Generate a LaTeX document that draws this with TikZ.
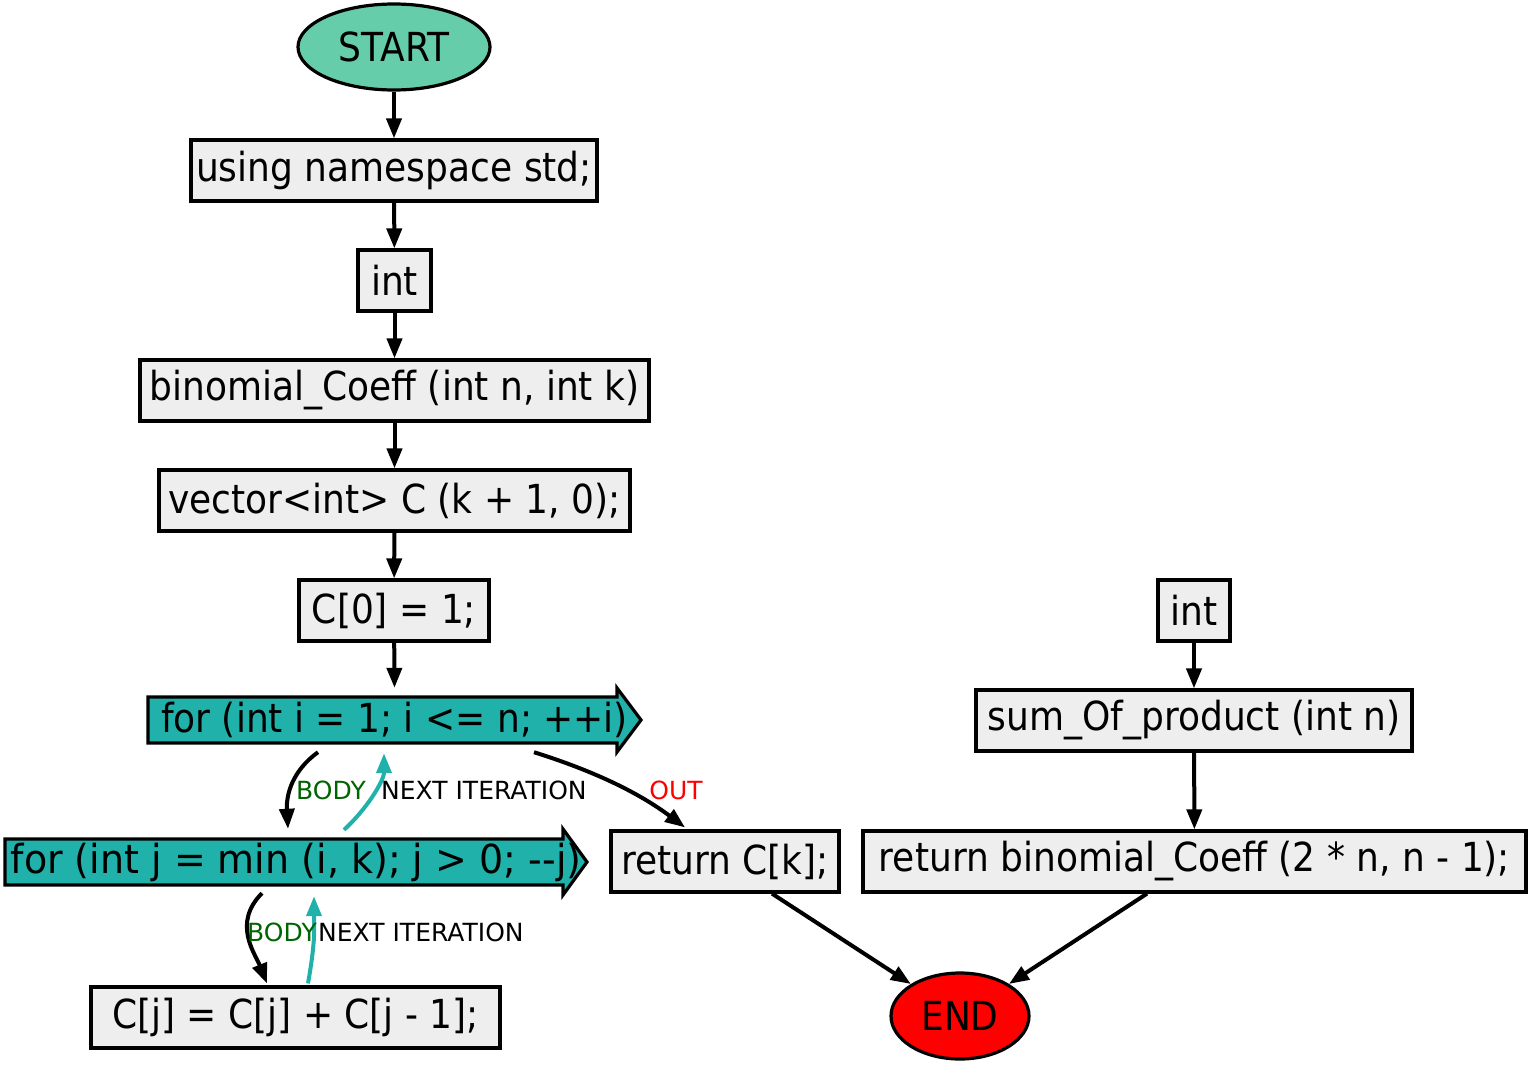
\documentclass[tikz,border=0pt]{standalone}
\usepackage{fontspec}
\setmainfont[FakeStretch=0.90,Ligatures=TeXOff]{DejaVu Sans}
\newfontfamily\lblfont{DejaVu Sans}
\usetikzlibrary{shapes.geometric,arrows.meta,calc}
\definecolor{boxgray}{HTML}{EEEEEE}
\definecolor{loopteal}{HTML}{20B2AA}
\definecolor{startgreen}{HTML}{66CDAA}
\definecolor{bodygreen}{HTML}{006400}
\begin{document}
\begin{tikzpicture}[x=1pt,y=-1pt,
  box/.style={draw=black,line width=3.2pt,fill=boxgray,inner sep=0pt,minimum height=61pt,font=\fontsize{40}{48}\selectfont},
  term/.style={ellipse,draw=black,line width=3.2pt,inner sep=0pt,font=\fontsize{40}{48}\selectfont},
  looptext/.style={inner sep=0pt,font=\fontsize{40}{48}\selectfont},
  loopshape/.style={draw=black,line width=3.2pt,fill=loopteal,line join=miter},
  flowedge/.style={line width=4pt,-{Triangle[length=20pt,width=15pt]}},
  nextedge/.style={flowedge,draw=loopteal},
  lbl/.style={inner sep=0pt,font=\lblfont\fontsize{25}{29}\selectfont}
]
\useasboundingbox (0,0) rectangle (1531,1065);

% loop shapes
\draw[loopshape] (148,697) -- (617,697) -- (617,688) -- (641,720) -- (617,752) -- (617,743) -- (148,743) -- cycle;
\draw[loopshape] (5,839) -- (563,839) -- (563,829) -- (587,862) -- (563,895) -- (563,885) -- (5,885) -- cycle;

% nodes
\node[term,fill=startgreen,minimum width=192pt,minimum height=86pt] (start) at (394,47) {START};
\node[box,minimum width=406pt] (using) at (394,170.5) {using namespace std;};
\node[box,minimum width=73pt] (int1) at (394.5,280.5) {int};
\node[box,minimum width=509pt] (binom) at (394.5,390.5) {binomial\_Coeff (int n, int k)};
\node[box,minimum width=471pt] (vec) at (394.5,500.5) {vector<int> C (k + 1, 0);};
\node[box,minimum width=190pt] (c0) at (394,610.5) {C[0] = 1;};
\node[looptext,minimum width=493pt,minimum height=64pt] (fori) at (394.5,720) {for (int i = 1; i <= n; ++i)};
\node[looptext,minimum width=582pt,minimum height=66pt] (forj) at (296,862) {\fontspec[FakeStretch=0.95,Ligatures=TeXOff]{DejaVu Sans}for (int j = min (i, k); j > 0; --j)};
\node[box,minimum width=409pt] (cj) at (295.5,1017.5) {C[j] = C[j] + C[j - 1];};
\node[box,minimum width=228pt] (retc) at (725,861.5) {return C[k];};
\node[box,minimum width=72pt] (int2) at (1194,610.5) {int};
\node[box,minimum width=436pt] (sum) at (1194,720.5) {sum\_Of\_product (int n)};
\node[box,minimum width=663pt] (retb) at (1194.5,861.5) {return binomial\_Coeff (2 * n, n - 1);};
\node[term,fill=red,minimum width=138pt,minimum height=86pt] (end) at (960,1016) {END};

% straight edges
\draw[flowedge] (start) -- (using);
\draw[flowedge] (using) -- (int1);
\draw[flowedge] (int1) -- (binom);
\draw[flowedge] (binom) -- (vec);
\draw[flowedge] (vec) -- (c0);
\draw[flowedge] (c0) -- (fori.north);
\draw[flowedge] (int2) -- (sum);
\draw[flowedge] (sum) -- (retb);
\draw[flowedge] ($(retc.south)+(47,0)$) -- (end);
\draw[flowedge] ($(retb.south)+(-47.5,0)$) -- (end);

% loop edges
\draw[flowedge] ($(fori.south)+(-76.5,0)$) .. controls +(-25,18) and +(-2,-35) .. ($(forj.north)+(-8,0)$);
\draw[nextedge] ($(forj.north)+(48,1)$) .. controls +(22,-20) and +(0,28) .. ($(fori.south)+(-10.5,1)$);
\draw[flowedge] ($(fori.south)+(139.5,0)$) .. controls +(70,22) and +(-40,-30) .. ($(retc.north)+(-40,-2)$);
\draw[flowedge] ($(forj.south)+(-34,-2)$) .. controls +(-30,30) and +(-12,-30) .. ($(cj.north)+(-28.5,-2)$);
\draw[nextedge] ($(cj.north)+(12.5,-2)$) .. controls +(8,-45) and +(0,30) .. ($(forj.south)+(18,1)$);

% labels
\node[lbl,text=bodygreen] (lb1) at (331,790) {BODY};
\node[lbl,anchor=west] (ln1) at (381,790) {NEXT ITERATION};
\node[lbl,text=red] (lo) at (676,790) {OUT};
\node[lbl,text=bodygreen] (lb2) at (282,932) {BODY};
\node[lbl,anchor=west] (ln2) at (318,932) {NEXT ITERATION};
\end{tikzpicture}
\end{document}
